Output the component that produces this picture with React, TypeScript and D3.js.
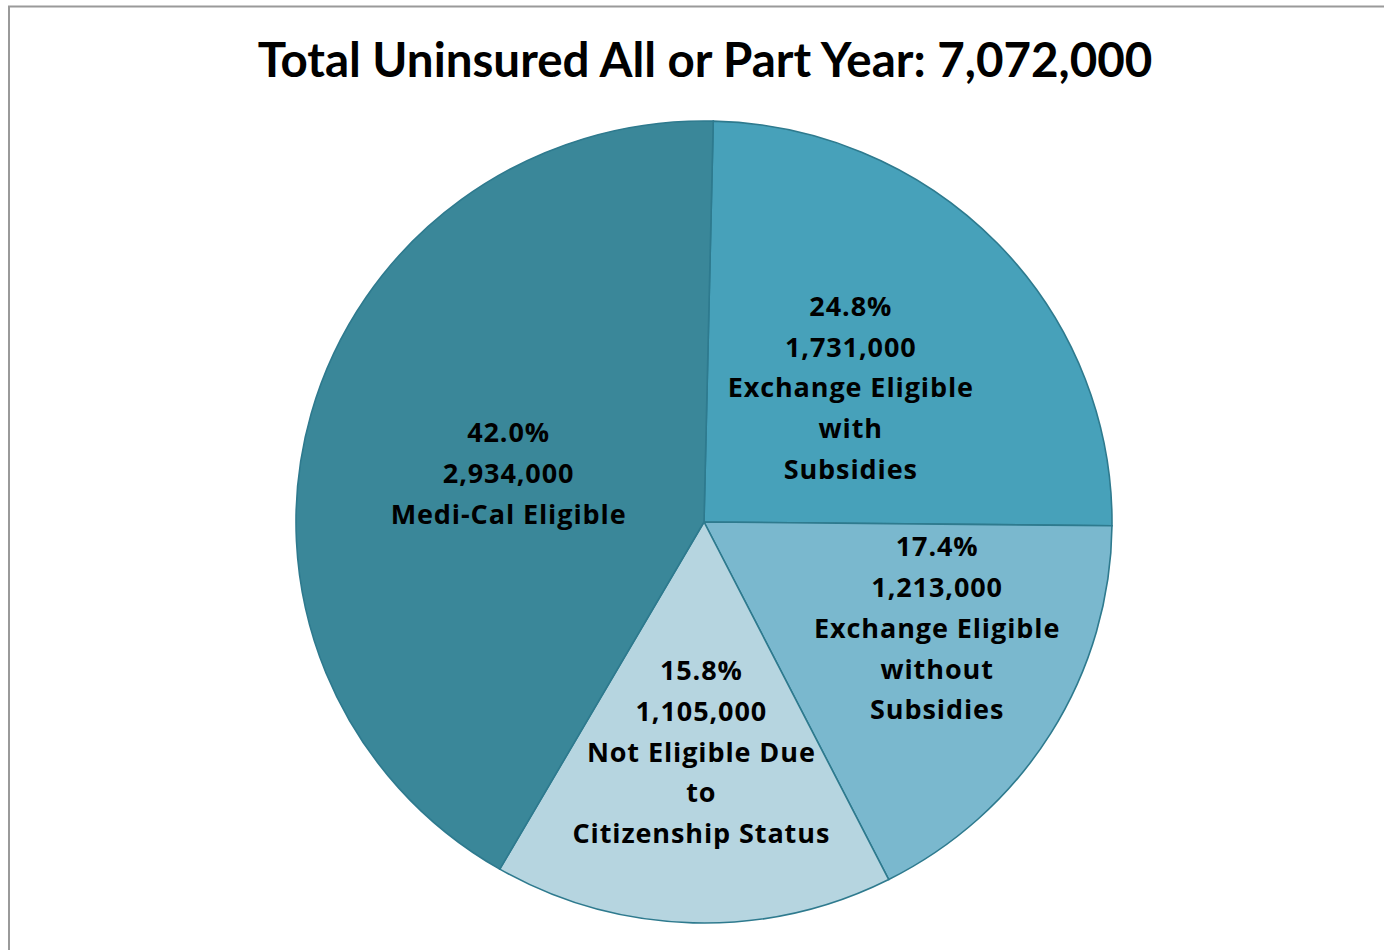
import { useMemo } from 'react'
import * as d3 from 'd3'

// chart data
const categories = ['Exchange Eligible with Subsidies', 'Exchange Eligible without Subsidies', 'Not Eligible Due to Citizenship Status', 'Medi-Cal Eligible']
const values = [1731000, 1213000, 1105000, 2934000]
const labelLines = [
  ['Exchange Eligible', 'with', 'Subsidies'],
  ['Exchange Eligible', 'without', 'Subsidies'],
  ['Not Eligible Due', 'to', 'Citizenship Status'],
  ['Medi-Cal Eligible'],
]
const title = 'Total Uninsured All or Part Year: 7,072,000'

const colors = ['#47A1BA', '#7AB8CE', '#B6D5E0', '#3A8799']
// label placement (fraction of radius, angle nudge in degrees), like Excel's best fit
const labelRadius = [0.491, 0.63, 0.574, 0.494]
const labelNudge = [1.2, -6.9, -0.9, -1.5]

const W = 1384
const H = 950
const cx = 704
const cy = 522
const rx = 408
const ry = 401
const startOffset = (1.3 * Math.PI) / 180

export default function App() {
  const arcs = useMemo(() => {
    const pie = d3.pie<number>().sort(null).startAngle(startOffset).endAngle(startOffset + 2 * Math.PI)
    return pie(values)
  }, [])

  const total = d3.sum(values)
  const pct = d3.format('.1%')
  const num = d3.format(',')
  const arc = d3.arc<d3.PieArcDatum<number>>().innerRadius(0).outerRadius(rx)

  return (
    <svg width={W} height={H} style={{ position: 'absolute', left: 0, top: 0 }}>
      <rect x={0} y={0} width={W} height={H} fill="#fff" />
      <path d={`M9,${H} V6.5 H${W}`} fill="none" stroke="#9a9a9a" strokeWidth={2} />
      <text x={705} y={77} textAnchor="middle" fontSize={47.5} fontWeight="bold" fill="#000" fontFamily="Lato, sans-serif">
        {title}
      </text>
      <g transform={`translate(${cx},${cy}) scale(1,${ry / rx})`}>
        {arcs.map((a, i) => (
          <path key={categories[i]} d={arc(a) ?? ''} fill={colors[i]} stroke="#2E7A8E" strokeWidth={1.6} vectorEffect="non-scaling-stroke" />
        ))}
      </g>
      <g transform={`translate(${cx},${cy})`} fontFamily='"Open Sans", sans-serif'>
        {arcs.map((a, i) => {
          const r = labelRadius[i] * rx
          const ang = (a.startAngle + a.endAngle) / 2 + (labelNudge[i] * Math.PI) / 180
          const x = r * Math.sin(ang)
          const y = (-r * Math.cos(ang) * ry) / rx
          const lines = [pct(values[i] / total), num(values[i]), ...labelLines[i]]
          const lh = 40.8
          const top = y - ((lines.length - 1) * lh) / 2
          return (
            <text key={categories[i]} x={x} textAnchor="middle" fontSize={27} fontWeight="bold" letterSpacing={0.9} fill="#000">
              {lines.map((l, j) => (
                <tspan key={j} x={x} y={top + j * lh} dy="0.35em">{l}</tspan>
              ))}
            </text>
          )
        })}
      </g>
    </svg>
  )
}
